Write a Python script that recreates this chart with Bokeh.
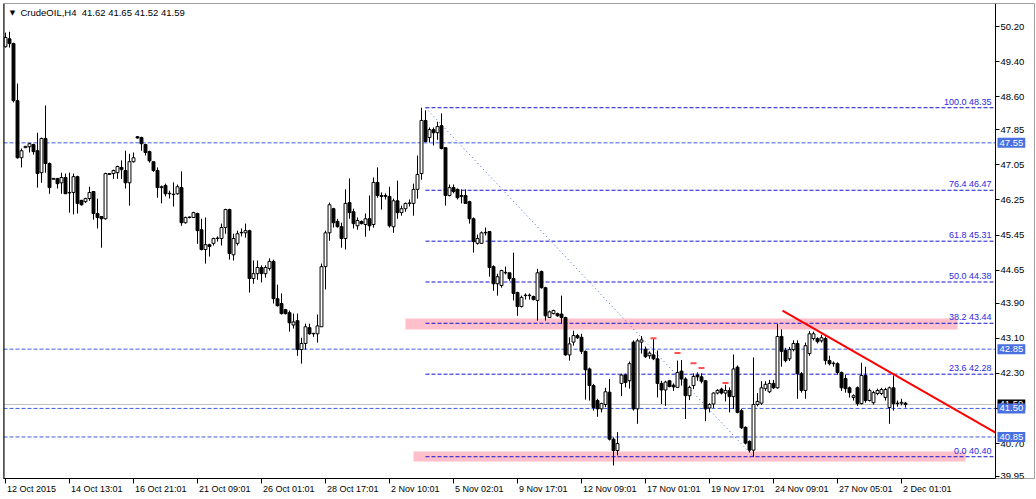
import numpy as np
from bokeh.plotting import figure
from bokeh.models import Range1d, FixedTicker, NumeralTickFormatter, Span, Label, LinearAxis
from bokeh.embed import file_html
from bokeh.resources import INLINE

# ---------------- data ----------------
opens = [
49.74,49.92,49.81,48.51,47.21,47.44,47.46,47.51,47.37,46.87,
47.65,47.08,46.72,46.74,46.64,46.76,46.41,46.42,46.78,46.24,
46.21,46.28,46.44,45.94,45.87,45.82,46.83,46.85,46.87,46.99,
46.92,46.64,47.12,47.69,47.67,47.51,47.35,47.12,46.92,46.53,
46.58,46.39,46.37,46.39,46.53,45.73,45.85,45.85,45.94,45.57,
45.12,45.23,45.26,45.37,45.37,45.62,46.03,45.00,45.26,45.50,
45.50,45.55,44.46,44.57,44.71,44.57,44.69,44.85,44.00,43.89,
43.75,43.68,43.40,43.50,42.84,42.98,43.34,43.20,43.20,43.36,
44.73,45.50,46.05,45.76,45.64,45.37,46.19,45.98,45.66,45.76,
45.69,45.82,45.69,46.65,46.35,46.33,46.33,45.64,46.23,45.96,
46.05,46.17,46.17,46.49,46.85,48.06,47.67,47.85,47.78,47.94,
47.44,46.35,46.53,46.49,46.33,46.35,46.21,45.82,45.26,45.26,
45.50,45.53,44.73,44.34,44.30,44.59,44.59,44.46,44.14,43.82,
44.07,44.07,44.05,43.96,44.62,44.25,43.57,43.66,43.66,43.65,
43.57,42.72,43.01,43.16,43.12,42.80,42.40,42.02,41.68,41.49,
41.59,41.87,40.80,40.54,42.07,42.26,42.13,43.01,41.49,43.01,
42.85,42.70,42.72,42.63,42.07,41.92,42.13,42.03,41.98,42.35,
42.17,41.79,42.02,42.26,42.22,42.13,41.51,41.60,41.85,41.94,
41.85,41.91,41.77,42.44,41.45,41.07,40.75,40.55,41.59,41.62,
41.95,41.88,42.07,41.97,43.14,42.82,42.63,42.84,42.98,42.29,
41.91,42.75,43.09,43.09,43.04,43.09,42.59,42.52,42.52,42.32,
42.18,41.97,41.75,41.97,41.61,42.25,41.68,41.63,41.84,41.84,
41.75,41.52,41.97,41.61,41.62,41.62]
highs = [
50.06,50.08,49.83,48.90,47.42,47.48,47.55,47.53,47.78,47.67,
48.40,47.10,46.74,46.75,46.87,46.85,46.87,46.85,46.80,46.25,
46.30,46.55,46.45,46.28,45.87,46.87,46.86,46.94,47.03,47.15,
47.37,47.30,47.33,47.70,47.69,47.53,47.37,47.12,46.99,46.58,
46.62,46.46,46.65,46.60,46.90,45.87,45.87,45.98,45.96,45.82,
45.85,45.25,45.39,45.42,45.71,46.05,46.05,45.48,45.55,45.60,
45.71,45.57,44.87,44.87,44.76,44.76,44.92,44.89,44.32,44.12,
43.77,43.73,43.66,43.66,43.11,43.43,43.43,43.22,43.64,44.80,
45.55,46.19,46.07,45.82,45.73,46.49,46.74,46.05,45.85,45.78,
45.94,46.35,46.76,46.99,46.42,46.40,46.55,46.28,46.69,46.12,
46.19,46.26,46.62,47.26,48.35,48.29,47.90,47.90,48.03,48.22,
47.44,46.60,46.60,46.51,46.49,46.49,46.23,45.85,45.46,45.53,
45.62,45.53,44.76,44.57,44.66,44.73,44.59,45.05,44.16,44.07,
44.12,44.12,44.07,44.68,44.64,44.27,43.73,43.75,43.68,44.07,
43.59,43.12,43.27,43.20,43.20,42.82,42.43,42.06,41.72,41.63,
41.97,42.17,40.84,40.96,42.29,42.29,42.57,43.05,43.09,43.15,
42.91,42.80,43.08,42.82,42.13,42.13,42.15,42.07,42.59,42.60,
42.21,42.02,42.30,42.32,42.30,42.15,41.62,41.87,41.94,41.97,
42.04,41.98,42.73,42.48,41.49,41.09,40.77,42.66,41.85,42.12,
42.12,42.15,42.15,43.43,43.30,42.88,42.90,43.05,43.05,42.33,
43.00,43.26,43.25,43.12,43.18,43.14,42.70,42.57,42.55,42.34,
42.27,42.00,41.82,42.00,42.54,42.45,41.95,41.90,41.95,41.97,
41.97,42.00,42.25,41.68,41.72,41.65]
lows = [
49.72,49.72,48.47,47.19,46.99,47.43,47.33,47.28,46.53,46.64,
46.87,46.39,46.72,46.51,46.39,46.39,45.96,45.92,45.94,46.12,
46.18,46.23,45.80,45.60,45.16,45.80,46.82,46.73,46.73,46.73,
46.51,46.12,47.10,47.65,47.37,47.26,47.10,46.89,46.30,46.17,
46.33,46.28,46.10,46.37,45.66,45.71,45.83,45.84,45.25,45.10,
44.80,44.96,45.21,45.30,45.21,45.48,44.89,44.87,45.21,45.42,
45.39,44.14,44.34,44.43,44.37,44.48,44.64,43.89,43.82,43.64,
43.64,43.25,43.32,42.70,42.52,42.84,43.18,43.13,43.00,43.36,
44.21,45.32,45.62,45.62,45.16,45.12,45.82,45.60,45.57,45.69,
45.41,45.55,45.62,46.30,46.03,46.26,45.62,45.50,45.82,45.89,
45.98,46.10,45.89,46.28,46.71,47.56,47.56,47.49,47.62,47.40,
46.12,46.33,46.40,46.26,46.17,46.17,45.71,45.05,45.23,45.26,
45.44,44.50,44.18,44.07,44.25,44.55,44.41,43.96,43.61,43.80,
43.98,43.98,43.96,43.50,44.23,43.50,43.57,43.64,43.59,43.43,
42.70,42.59,42.93,43.08,42.74,41.70,41.68,41.45,41.31,41.41,
41.53,40.77,40.20,40.43,41.78,41.98,41.95,41.45,41.15,42.75,
42.65,42.63,42.60,41.75,41.60,41.56,41.98,41.90,41.97,42.02,
41.26,41.69,41.94,42.13,42.07,41.21,41.41,41.51,41.82,41.82,
41.66,41.41,41.49,41.39,41.03,40.68,40.50,40.40,41.55,41.58,
41.90,41.85,41.94,41.95,42.45,42.55,42.58,42.80,41.72,41.86,
41.72,42.70,43.05,42.98,43.00,42.50,42.48,42.45,42.27,41.90,
41.86,41.75,41.68,41.56,41.59,41.63,41.66,41.59,41.80,41.80,
41.68,41.15,41.45,41.54,41.57,41.52]
closes = [
49.95,49.81,48.51,47.21,47.37,47.47,47.53,47.35,46.85,47.65,
47.08,46.53,46.74,46.62,46.76,46.39,46.42,46.78,46.17,46.14,
46.28,46.42,45.94,45.85,45.82,46.85,46.85,46.92,47.01,46.94,
46.64,47.12,47.21,47.66,47.53,47.33,47.14,46.92,46.53,46.55,
46.39,46.40,46.38,46.55,45.73,45.85,45.86,45.96,45.55,45.12,
45.23,45.19,45.37,45.38,45.62,46.03,45.03,45.37,45.48,45.51,
45.55,44.46,44.57,44.71,44.57,44.71,44.85,44.00,43.84,43.66,
43.66,43.45,43.47,42.84,42.98,43.36,43.20,43.21,43.38,44.73,
45.50,46.14,45.73,45.64,45.37,46.17,45.96,45.71,45.78,45.71,
45.82,45.66,46.65,46.35,46.33,46.35,45.66,46.23,45.96,46.05,
46.17,46.18,46.49,46.83,48.06,47.58,47.85,47.78,47.92,47.42,
46.35,46.53,46.44,46.30,46.35,46.17,45.82,45.30,45.37,45.50,
45.51,44.71,44.34,44.50,44.64,44.60,44.46,44.12,43.82,44.03,
44.08,44.08,43.98,44.59,44.25,43.61,43.70,43.73,43.61,43.57,
42.72,42.97,43.16,43.11,42.80,42.38,42.02,41.52,41.49,41.61,
41.88,40.80,40.54,40.70,42.26,42.09,42.52,41.49,43.04,43.06,
42.68,42.76,42.63,42.07,41.92,42.10,42.00,41.99,42.32,42.17,
41.79,41.98,42.23,42.22,42.12,41.49,41.59,41.85,41.91,41.85,
41.91,41.77,42.40,41.41,41.06,40.71,40.55,41.59,41.66,41.97,
42.05,42.07,41.97,43.14,42.80,42.59,42.84,42.98,42.29,41.91,
42.93,43.20,43.20,43.02,43.11,42.59,42.52,42.53,42.32,41.97,
41.95,41.86,41.79,41.61,42.25,41.68,41.91,41.86,41.91,41.93,
41.93,41.97,41.61,41.62,41.64,41.59]
assert len(opens) == len(highs) == len(lows) == len(closes) == 226

x_tick_bars = [0, 16, 32, 48, 64, 80, 96, 112, 128, 144, 160, 176, 192, 208, 224]
x_tick_labels = ["12 Oct 2015", "14 Oct 13:01", "16 Oct 21:01", "21 Oct 09:01", "26 Oct 01:01",
                 "28 Oct 17:01", "2 Nov 10:01", "5 Nov 02:01", "9 Nov 17:01", "12 Nov 09:01",
                 "17 Nov 01:01", "19 Nov 17:01", "24 Nov 09:01", "27 Nov 05:01", "2 Dec 01:01"]
y_ticks = [50.20, 49.40, 48.60, 47.85, 47.05, 46.25, 45.45, 44.65, 43.90, 43.10, 42.30, 41.50, 40.70, 39.95]

level_prices = [47.55, 42.85, 41.50, 40.85]
bid_price = 41.59
title_text = "CrudeOIL,H4\u00a0 41.62 41.65 41.52 41.59"

fib_pcts = [100.0, 76.4, 61.8, 50.0, 38.2, 23.6, 0.0]
fib_prices = [48.35, 46.47, 45.31, 44.38, 43.44, 42.28, 40.40]
fib_anchor_bars = [105, 187]
fib_anchor_prices = [48.35, 40.40]

zone_left = [100, 102]
zone_right = [238, 240]
zone_bottom = [43.30, 40.29]
zone_top = [43.55, 40.52]

trend_bars = [194.25, 247.5]
trend_prices = [43.73, 40.95]

mark_bars = [162, 168, 172, 174, 180]
mark_prices = [43.10, 42.76, 42.53, 42.42, 42.08]

# ---------------- geometry ----------------
W, H = 1036, 499
BORDER_L, BORDER_T, BORDER_R, BORDER_B = 3, 3, 2, 21
FRAME_W = W - BORDER_L - BORDER_R          # frame also hosts the price-scale column
FRAME_H = H - BORDER_T - BORDER_B
PX_PER_BAR = 4.0
X0, X1 = -0.5, 247.5                       # candle area in bar units
XE = X0 + FRAME_W / PX_PER_BAR             # frame end, including price-scale column
Y0, Y1 = 39.904, 50.724
FONT = "Liberation Sans"
LEVEL_BLUE = "#3d5fdc"
FIB_BLUE = "#1414d2"

p = figure(width=W, height=H, x_range=Range1d(X0, XE), y_range=Range1d(Y0, Y1),
           x_axis_location=None, y_axis_location=None,
           output_backend="svg", toolbar_location=None,
           min_border_left=BORDER_L, min_border_top=BORDER_T,
           min_border_right=BORDER_R, min_border_bottom=BORDER_B)
p.title.visible = False
p.grid.visible = False
p.background_fill_color = "white"
p.border_fill_color = "white"
p.outline_line_color = "#a0a0a0"
p.outline_line_width = 1

# price scale: axis line + outward ticks at the right edge of the candle area
ytick_axis = LinearAxis(fixed_location=X1, ticker=FixedTicker(ticks=y_ticks, minor_ticks=[]),
                        major_label_overrides={t: "" for t in y_ticks},
                        major_label_text_font_size="0px", major_label_standoff=0,
                        major_tick_in=4, major_tick_out=0, minor_tick_in=0, minor_tick_out=0,
                        axis_line_color="black", major_tick_line_color="black")
p.add_layout(ytick_axis, "left")
# price scale: labels, placed in the column right of the axis line
ylab_axis = LinearAxis(fixed_location=X1 + 27.0 / PX_PER_BAR,
                       ticker=FixedTicker(ticks=y_ticks, minor_ticks=[]),
                       formatter=NumeralTickFormatter(format="0.00"),
                       axis_line_color=None, major_tick_line_color=None, minor_tick_line_color=None,
                       major_tick_in=0, major_tick_out=0, minor_tick_in=0, minor_tick_out=0,
                       major_label_standoff=-22, major_label_text_font=FONT,
                       major_label_text_font_size="9.5px", major_label_text_color="black")
p.add_layout(ylab_axis, "right")

# time axis: ticks only
xtick_axis = LinearAxis(ticker=FixedTicker(ticks=x_tick_bars, minor_ticks=[]), bounds=(X0, X1),
                        major_label_overrides={t: "" for t in x_tick_bars},
                        major_label_text_font_size="0px", major_label_standoff=0,
                        major_tick_in=0, major_tick_out=5, minor_tick_in=0, minor_tick_out=0,
                        axis_line_color="black", major_tick_line_color="black")
p.add_layout(xtick_axis, "below")
# time axis: labels, each centred so that it starts just right of its tick
CW = {c: 0.556 for c in "0123456789"}
CW.update({" ": 0.278, ":": 0.278, ".": 0.278, "O": 0.778, "c": 0.5, "t": 0.278,
           "N": 0.722, "o": 0.556, "v": 0.5, "D": 0.722, "e": 0.556})
LAB_PX = 9.0
lab_pos, lab_over = [], {}
for b, s in zip(x_tick_bars, x_tick_labels):
    wpx = sum(CW.get(ch, 0.55) for ch in s) * LAB_PX
    pos = round(b + (wpx / 2 + 1.5) / PX_PER_BAR, 3)
    lab_pos.append(pos)
    lab_over[pos] = s
xlab_axis = LinearAxis(ticker=FixedTicker(ticks=lab_pos, minor_ticks=[]),
                       major_label_overrides=lab_over, axis_line_color=None,
                       major_tick_line_color=None, minor_tick_line_color=None,
                       major_tick_in=0, major_tick_out=0, minor_tick_in=0, minor_tick_out=0,
                       major_label_standoff=0, major_label_text_font=FONT,
                       major_label_text_font_size=f"{LAB_PX}px", major_label_text_color="black")
p.add_layout(xlab_axis, "below")

# left border of the chart window
p.add_layout(Span(location=X0, dimension="height", line_color="black", line_width=2))

# zones
p.quad(left=zone_left, right=zone_right, bottom=zone_bottom, top=zone_top,
       fill_color="#ffc0cb", line_color=None)

# horizontal levels (across the candle area only)
n_lv = len(level_prices)
p.segment(x0=[X0] * n_lv, y0=level_prices, x1=[X1] * n_lv, y1=level_prices,
          line_color=LEVEL_BLUE, line_dash="4 2", line_width=1)
p.segment(x0=[X0], y0=[bid_price], x1=[X1], y1=[bid_price], line_color="#c0c0c0", line_width=1)

# fibonacci
p.segment(x0=[fib_anchor_bars[0]] * len(fib_prices), y0=fib_prices,
          x1=[X1] * len(fib_prices), y1=fib_prices,
          line_color=FIB_BLUE, line_dash="4 2", line_width=1)
p.line(fib_anchor_bars, fib_anchor_prices, line_color=LEVEL_BLUE, line_dash="1 3", line_width=1)
for pct, pr in zip(fib_pcts, fib_prices):
    p.add_layout(Label(x=X1 - 1.0, y=pr, text=f"{pct:.1f} {pr:.2f}", text_align="right",
                       text_baseline="bottom", y_offset=1, text_font=FONT,
                       text_font_size="9px", text_color="#2a2ae0"))

# candles
idx = np.arange(len(opens))
o = np.array(opens); c = np.array(closes); hi = np.array(highs); lo = np.array(lows)
p.segment(x0=idx, y0=lo, x1=idx, y1=hi, line_color="black", line_width=1)
up = c >= o
dn = ~up
p.vbar(x=idx[up], width=0.72, top=c[up], bottom=o[up], fill_color="white", line_color="black", line_width=1)
p.vbar(x=idx[dn], width=0.72, top=o[dn], bottom=c[dn], fill_color="black", line_color="black", line_width=1)

# small red marks
p.scatter(x=mark_bars, y=mark_prices, marker="dash", size=6, line_color="#ff5050", line_width=2)

# red trendline
p.line(trend_bars, trend_prices, line_color="#ff0000", line_width=2)

# title (inside the frame, top-left)
p.add_layout(Label(x=9, y=FRAME_H - 9, x_units="screen", y_units="screen", text="\u25bc",
                   text_font="DejaVu Sans", text_font_size="7px", text_baseline="middle",
                   text_align="center", text_color="black"))
p.add_layout(Label(x=17, y=FRAME_H - 9, x_units="screen", y_units="screen", text=title_text,
                   text_font=FONT, text_font_size="9.5px", text_baseline="middle",
                   text_color="black"))

# price tags on the price scale (inside the frame's price column)
TAG_X = X1 + 2.0 / PX_PER_BAR
def tag(price, bg):
    p.add_layout(Label(x=TAG_X, y=price, text=f"{price:.2f}", text_font=FONT,
                       text_font_size="9.5px", text_baseline="middle", text_color="white",
                       background_fill_color=bg, padding=2))

tag(bid_price, "black")
for lv in level_prices:
    tag(lv, "#4a6fe0")

open("out.html", "w").write(file_html(p, INLINE))
